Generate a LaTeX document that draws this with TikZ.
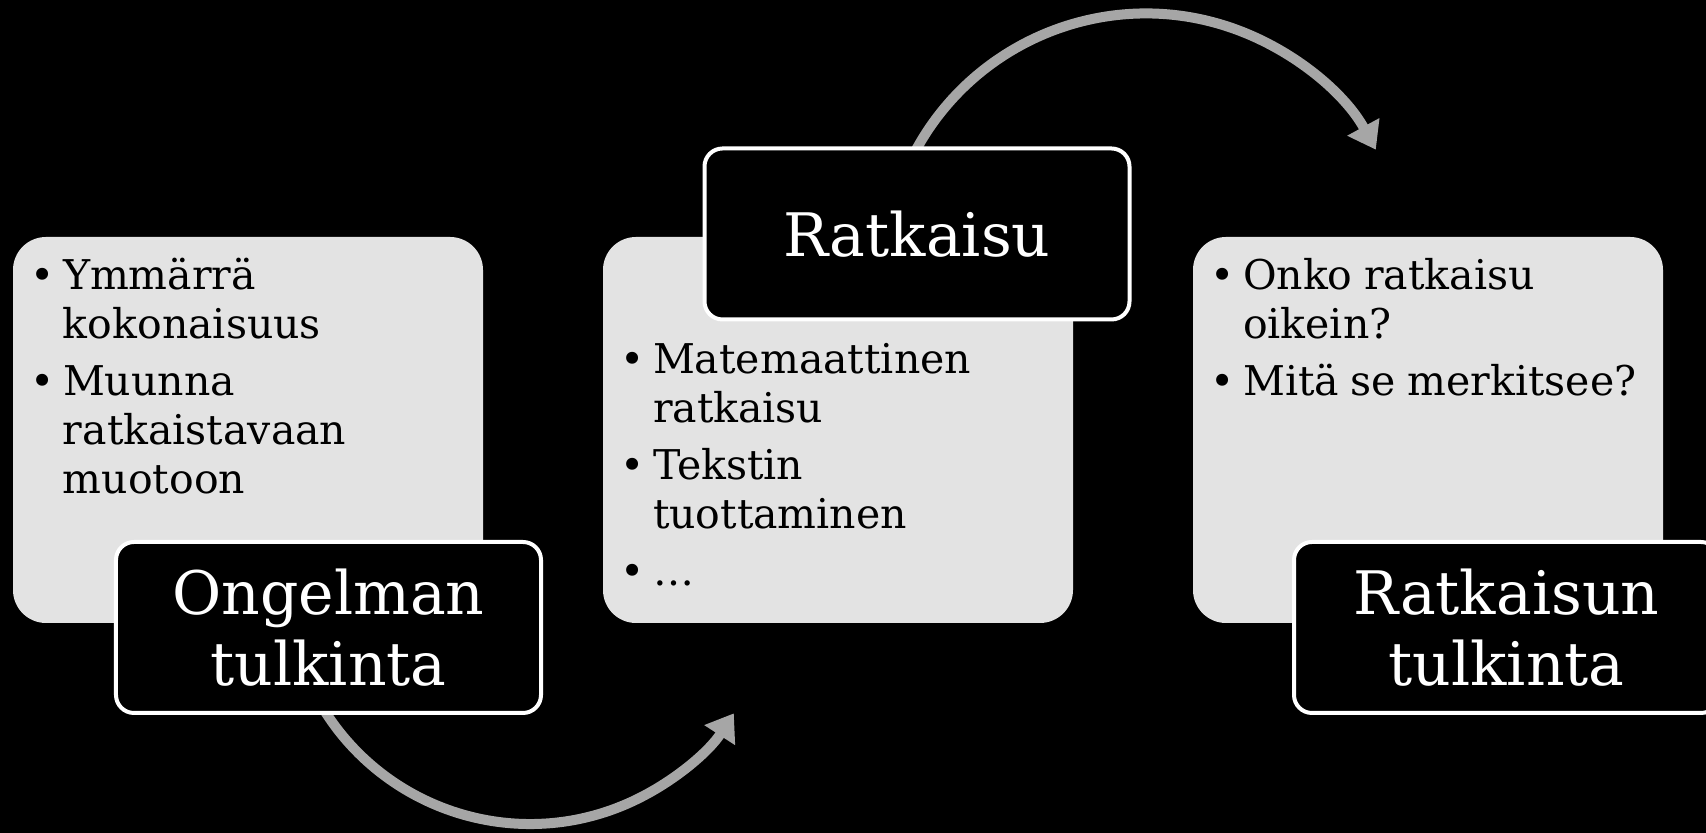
\documentclass[tikz,border=0pt]{standalone}
\usepackage{fontspec}
\setmainfont{DejaVu Serif}
\usetikzlibrary{arrows.meta}

\definecolor{panelgrey}{RGB}{227,227,227}
\definecolor{arrowgrey}{RGB}{166,166,166}

\newcommand{\listfont}{\fontsize{4.1mm}{4.9mm}\selectfont\setlength{\parskip}{0.8mm}}
\newcommand{\labelfont}{\fontsize{6.0mm}{7.1mm}\selectfont}
\newcommand{\bul}[1]{\par\hangindent=3.3mm\hangafter=1\noindent
  \makebox[3.3mm][l]{\textbullet}\strut#1}

\begin{document}
\begin{tikzpicture}[x=1mm,y=1mm]
\tikzstyle{every node}+=[inner sep=0pt, outer sep=0pt]
\tikzstyle{stagebox}=[fill=panelgrey, rounded corners=3.3mm, minimum width=47mm, minimum height=38.6mm, anchor=north west]
\tikzstyle{stagelabel}=[fill=black, draw=white, line width=0.4mm, rounded corners=1.8mm, minimum width=42.5mm, minimum height=17.1mm, text=white, font=\labelfont, align=center]
\tikzstyle{bullets}=[anchor=north west, text width=46mm, text=black]
\tikzstyle{bigarrow}=[draw=arrowgrey, line width=1mm, -{Triangle[width=3.5mm, length=2.6mm]}]
\useasboundingbox (0,0) rectangle (170.6,-83.3);
\fill [black] (0,0) rectangle (170.6,-83.3);
% grey panels
\node [stagebox] (p1) at (1.3,-23.7) {};
\node [stagebox] (p2) at (60.3,-23.7) {};
\node [stagebox] (p3) at (119.3,-23.7) {};
% arrows between the stages
\coordinate (a1s) at (30.98,-68.37);
\coordinate (a2s) at (89.98,-18.59);
\draw [bigarrow] (a1s) arc (205:327:24.3);
\draw [bigarrow] (a2s) arc (160:28.7:26.2);
% stage names
\node [stagelabel] (l1) at (32.85,-62.75) {Ongelman\\tulkinta};
\node [stagelabel] (l2) at (91.7,-23.4) {Ratkaisu};
\node [stagelabel] (l3) at (150.65,-62.75) {Ratkaisun\\tulkinta};
% bullet lists
\node [bullets] (t1) at (3.0,-23.3) {\listfont\bul{Ymmärrä\newline kokonaisuus}\bul{Muunna\newline ratkaistavaan\newline muotoon}\par};
\node [bullets] (t2) at (62.0,-31.7) {\listfont\bul{Matemaattinen\newline ratkaisu}\bul{Tekstin\newline tuottaminen}\bul{…}\par};
\node [bullets] (t3) at (121.0,-23.3) {\listfont\bul{Onko ratkaisu\newline oikein?}\bul{Mitä se merkitsee?}\par};
\end{tikzpicture}
\end{document}
